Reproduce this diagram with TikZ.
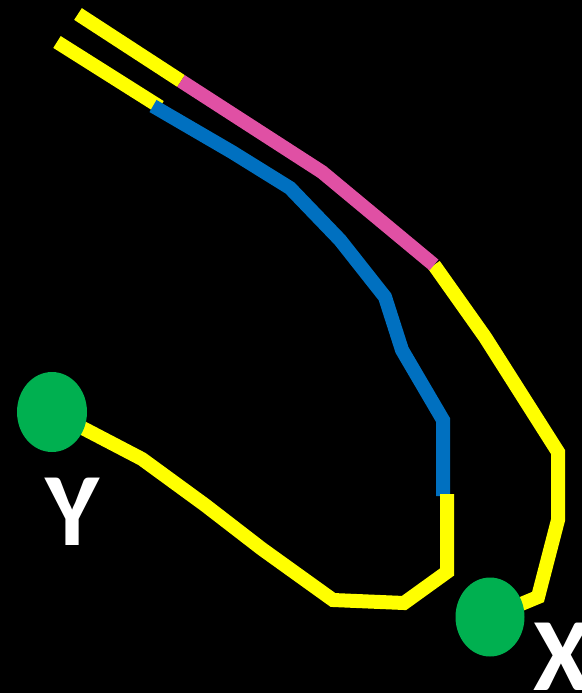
\documentclass[tikz,border=0pt]{standalone}
\usepackage{fontspec}
\setsansfont{Carlito}
\usetikzlibrary{shapes.geometric}
\definecolor{RouteYellow}{RGB}{255,255,0}
\definecolor{RoutePink}{RGB}{224,80,164}
\definecolor{RouteBlue}{RGB}{0,112,192}
\definecolor{SiteGreen}{RGB}{0,176,80}
\tikzset{
  route/.style={line width=14pt,line join=miter,line cap=butt},
  site/.style={ellipse,fill=SiteGreen,inner sep=0pt,minimum width=70pt,minimum height=80pt},
  sitelabel/.style={text=white,font=\sffamily\bfseries\fontsize{104}{104}\selectfont,inner sep=0pt,anchor=base}
}

\begin{document}
\begin{tikzpicture}[x=1pt,y=-1pt]
\fill[black] (0,0) rectangle (582,693);
\useasboundingbox (0,0) rectangle (582,693);
% end points
\coordinate (ysite) at (52,412);
\coordinate (xsite) at (490,617);
\coordinate (top1) at (78,14);
\coordinate (top2) at (57,42);
\coordinate (pinkA) at (181,81);
\coordinate (pinkB) at (434,265);
\coordinate (blueA) at (153,106);
\coordinate (blueB) at (443,496);
\coordinate (yelB) at (447,494);
% outer route
\draw[route,RouteYellow] (top1)--(pinkA);
\draw[route,RouteYellow] (pinkB)--(485,337)--(558,452)--(558,520)--(538,597)--(xsite);
\draw[route,RoutePink] (pinkA)--(322,172)--(pinkB);
% inner route
\draw[route,RouteYellow] (top2)--(160,107);
\draw[route,RouteBlue] (blueA)--(232,152)--(290,188)--(340,240)--(385,297)--(402,350)--(443,420)--(blueB);
\draw[route,RouteYellow] (yelB)--(447,572)--(404,603)--(333,600)--(262,549)--(205,505)--(142,459)--(ysite);
% sites
\node[site] (Y) at (ysite) {};
\node[site,minimum width=69pt,minimum height=79pt] (X) at (xsite) {};
\node[sitelabel] (ylab) at (73,545) {Y};
\node[sitelabel] (xlab) at (562,690) {X};
\end{tikzpicture}
\end{document}
